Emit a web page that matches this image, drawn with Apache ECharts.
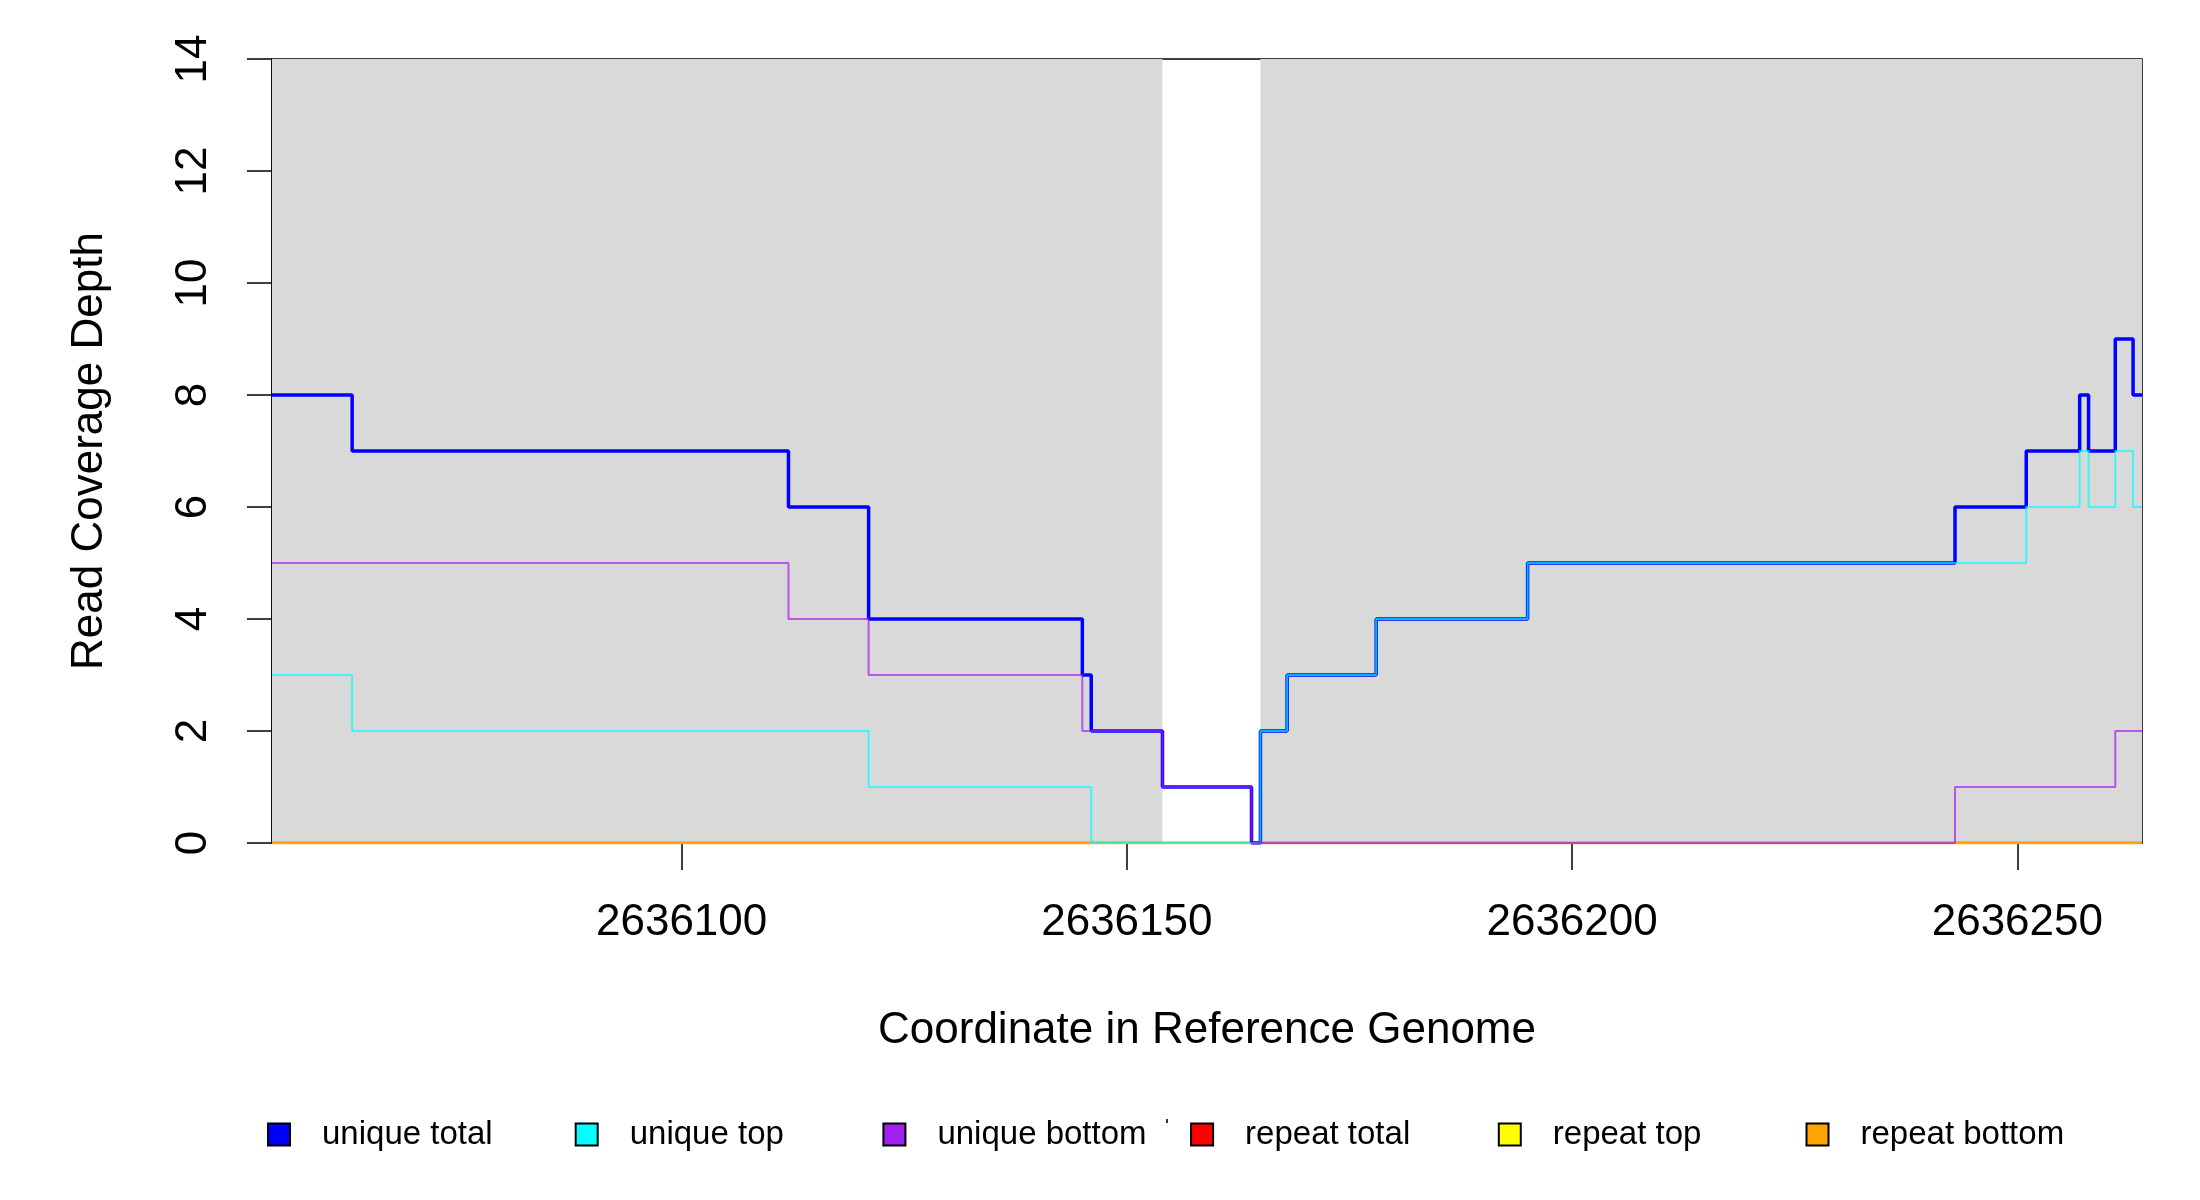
<!DOCTYPE html>
<html style="height: 100%">
<head>
    <meta charset="utf-8">
    <script src="https://cdn.jsdelivr.net/npm/echarts@6.0.0/dist/echarts.min.js"></script>
</head>
<body style="height: 100%; margin: 0; background: #fff">
    <div id="container" style="height: 100%"></div>
    <script type="text/javascript">
        var myChart = echarts.init(document.getElementById('container'));

        const FONT = 'Liberation Sans';

        // breakpoints (coverage holds from each position until the next)
        const positions = [2636054, 2636063, 2636112, 2636121, 2636145, 2636146, 2636154, 2636164, 2636165,
            2636168, 2636178, 2636195, 2636243, 2636251, 2636257, 2636258, 2636261, 2636263, 2636264];
        const uniqueTotal  = [8, 7, 6, 4, 3, 2, 1, 0, 2, 3, 4, 5, 6, 7, 8, 7, 9, 8, 8];
        const uniqueTop    = [3, 2, 2, 1, 1, 0, 0, 0, 2, 3, 4, 5, 5, 6, 7, 6, 7, 6, 6];
        const uniqueBottom = [5, 5, 4, 3, 2, 2, 1, 0, 0, 0, 0, 0, 1, 1, 1, 1, 2, 2, 2];
        const repeatTotal  = [0, 0, 0, 0, 0, 0, 0, 0, 0, 0, 0, 0, 0, 0, 0, 0, 0, 0, 0];
        const repeatTop    = [0, 0, 0, 0, 0, 0, 0, 0, 0, 0, 0, 0, 0, 0, 0, 0, 0, 0, 0];
        const repeatBottom = [0, 0, 0, 0, 0, 0, 0, 0, 0, 0, 0, 0, 0, 0, 0, 0, 0, 0, 0];

        // shaded regions [start, end]
        const regions = [[2636054, 2636154], [2636165, 2636264]];
        const xTicks = [2636100, 2636150, 2636200, 2636250];

        const names = ['unique total', 'unique top', 'unique bottom', 'repeat total', 'repeat top', 'repeat bottom'];
        const colors = ['#0000ff', '#00ffff', '#a020f0', '#ff0000', '#ffff00', '#ffa500'];

        function pairs(vals) {
            return positions.map((p, i) => [p, vals[i]]);
        }

        function stepSeries(idx, vals, width, opacity) {
            return {
                name: names[idx], type: 'line', step: 'end',
                showSymbol: false, z: 3,
                itemStyle: { color: colors[idx] },
                lineStyle: { color: colors[idx], width: width, opacity: opacity },
                data: pairs(vals)
            };
        }

        option = {
            animation: false,
            backgroundColor: '#ffffff',
            grid: {
                left: 272, right: 58, top: 59, bottom: 357,
                show: true, borderColor: '#000', borderWidth: 1.5
            },
            xAxis: {
                type: 'value',
                min: 2636054, max: 2636264,
                name: 'Coordinate in Reference Genome',
                nameLocation: 'middle', nameGap: 166,
                nameTextStyle: { fontSize: 44, fontFamily: FONT, color: '#000' },
                axisLine: { show: true, lineStyle: { color: '#000', width: 1.5 } },
                axisTick: { show: true, length: 27, customValues: xTicks, lineStyle: { color: '#000', width: 1.5 } },
                axisLabel: {
                    customValues: xTicks, margin: 58, fontSize: 44, fontFamily: FONT, color: '#000',
                    formatter: function (v) { return String(v); }
                },
                splitLine: { show: false }
            },
            yAxis: {
                type: 'value',
                min: 0, max: 14, interval: 2,
                name: 'Read Coverage Depth',
                nameLocation: 'middle', nameGap: 160, nameRotate: 90,
                nameTextStyle: { fontSize: 44, fontFamily: FONT, color: '#000' },
                axisLine: { show: true, lineStyle: { color: '#000', width: 1.5 } },
                axisTick: { show: true, length: 25, lineStyle: { color: '#000', width: 1.5 } },
                axisLabel: { rotate: 90, margin: 56, fontSize: 44, fontFamily: FONT, color: '#000' },
                splitLine: { show: false }
            },
            legend: names.map((n, i) => ({
                data: [n],
                left: 267 + i * 307.7, top: 1118,
                padding: 0,
                icon: 'rect', itemWidth: 22, itemHeight: 22,
                itemStyle: { borderColor: '#000', borderWidth: 2 },
                textStyle: { fontSize: 33, fontFamily: FONT, color: '#000', padding: [0, 0, 0, 27] }
            })),
            graphic: [{
                type: 'rect', left: 1166, top: 1119,
                shape: { width: 2, height: 4 },
                style: { fill: '#333' }
            }],
            series: [
                {
                    type: 'custom', z: 1, silent: true,
                    renderItem: function (params, api) {
                        var a = api.coord([api.value(0), 14]);
                        var b = api.coord([api.value(1), 0]);
                        return {
                            type: 'rect',
                            shape: { x: a[0], y: a[1], width: b[0] - a[0], height: b[1] - a[1] },
                            style: { fill: '#d9d9d9' }
                        };
                    },
                    data: regions
                },
                stepSeries(3, repeatTotal, 2.5, 1),
                stepSeries(4, repeatTop, 2.5, 1),
                stepSeries(5, repeatBottom, 2.5, 1),
                stepSeries(0, uniqueTotal, 3.5, 1),
                stepSeries(1, uniqueTop, 2, 0.7),
                stepSeries(2, uniqueBottom, 2, 0.7)
            ]
        };

        myChart.setOption(option);
        window.addEventListener('resize', function() { myChart.resize(); });
    </script>
</body>
</html>
